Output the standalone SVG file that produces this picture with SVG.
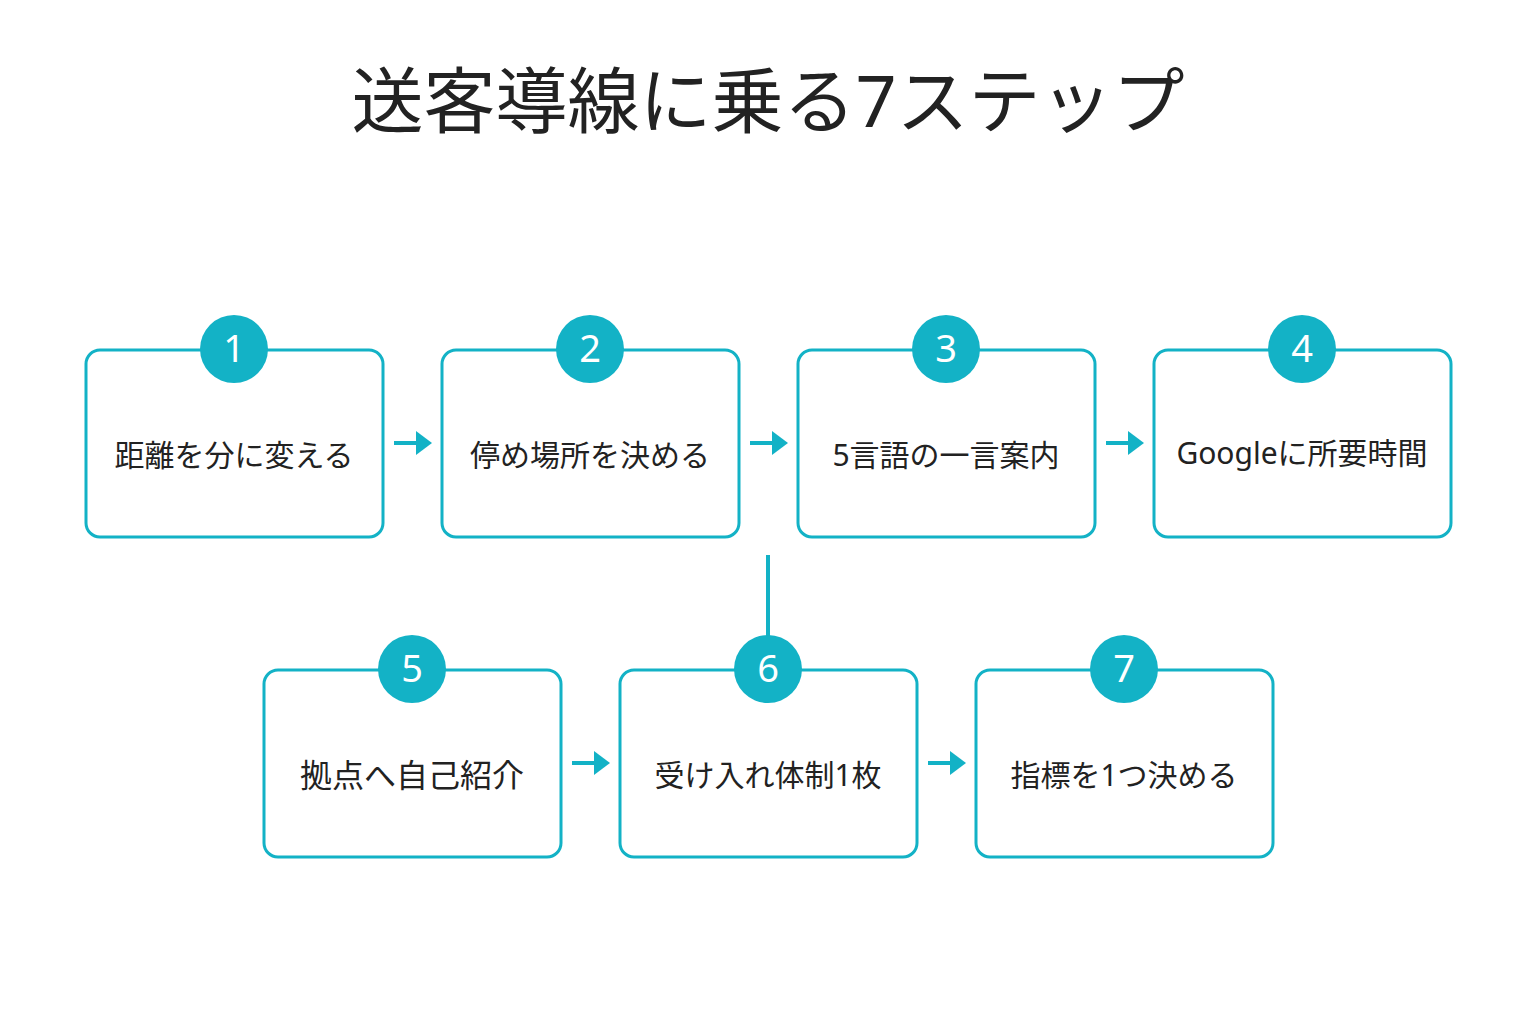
<svg xmlns="http://www.w3.org/2000/svg" width="1536" height="1024" viewBox="0 0 1536 1024">
<defs>
<style>
.box{fill:#fff;stroke:#13b2c6;stroke-width:3}
.c{fill:#13b2c6}
.n{font-family:"Noto Sans","Noto Sans CJK JP",sans-serif;font-size:38px;fill:#fff;text-anchor:middle}
.t{font-family:"Noto Sans","Noto Sans CJK JP",sans-serif;font-size:30px;fill:#222;text-anchor:middle}
.t2{font-size:32px}
.ln{stroke:#13b2c6;stroke-width:4;fill:none}
</style>
<marker id="ah" markerWidth="4" markerHeight="6" refX="0" refY="3" orient="auto" markerUnits="strokeWidth"><path d="M0,0L4,3L0,6z" fill="#13b2c6"/></marker>
</defs>
<rect width="1536" height="1024" fill="#fff"/>
<text x="768" y="127" font-family="Noto Sans,Noto Sans CJK JP,sans-serif" font-size="72" fill="#222" text-anchor="middle">送客導線に乗る7ステップ</text>
<g id="connectors">
<line class="ln" x1="394" y1="443" x2="416" y2="443" marker-end="url(#ah)"/>
<line class="ln" x1="750" y1="443" x2="772" y2="443" marker-end="url(#ah)"/>
<line class="ln" x1="1106" y1="443" x2="1128" y2="443" marker-end="url(#ah)"/>
<line class="ln" x1="768" y1="555" x2="768" y2="636"/>
<line class="ln" x1="572" y1="763" x2="594" y2="763" marker-end="url(#ah)"/>
<line class="ln" x1="928" y1="763" x2="950" y2="763" marker-end="url(#ah)"/>
</g>
<g id="s1"><rect class="box" x="86" y="350" width="297" height="187" rx="14"/><circle class="c" cx="234" cy="349" r="34"/><text class="n" x="234" y="362">1</text><text class="t" x="234" y="466">距離を分に変える</text></g>
<g id="s2"><rect class="box" x="442" y="350" width="297" height="187" rx="14"/><circle class="c" cx="590" cy="349" r="34"/><text class="n" x="590" y="362">2</text><text class="t" x="590" y="466">停め場所を決める</text></g>
<g id="s3"><rect class="box" x="798" y="350" width="297" height="187" rx="14"/><circle class="c" cx="946" cy="349" r="34"/><text class="n" x="946" y="362">3</text><text class="t" x="946" y="466">5言語の一言案内</text></g>
<g id="s4"><rect class="box" x="1154" y="350" width="297" height="187" rx="14"/><circle class="c" cx="1302" cy="349" r="34"/><text class="n" x="1302" y="362">4</text><text class="t" x="1302" y="464">Googleに所要時間</text></g>
<g id="s5"><rect class="box" x="264" y="670" width="297" height="187" rx="14"/><circle class="c" cx="412" cy="669" r="34"/><text class="n" x="412" y="682">5</text><text class="t t2" x="412" y="787">拠点へ自己紹介</text></g>
<g id="s6"><rect class="box" x="620" y="670" width="297" height="187" rx="14"/><circle class="c" cx="768" cy="669" r="34"/><text class="n" x="768" y="682">6</text><text class="t" x="768" y="786">受け入れ体制1枚</text></g>
<g id="s7"><rect class="box" x="976" y="670" width="297" height="187" rx="14"/><circle class="c" cx="1124" cy="669" r="34"/><text class="n" x="1124" y="682">7</text><text class="t" x="1124" y="786">指標を1つ決める</text></g>
</svg>
